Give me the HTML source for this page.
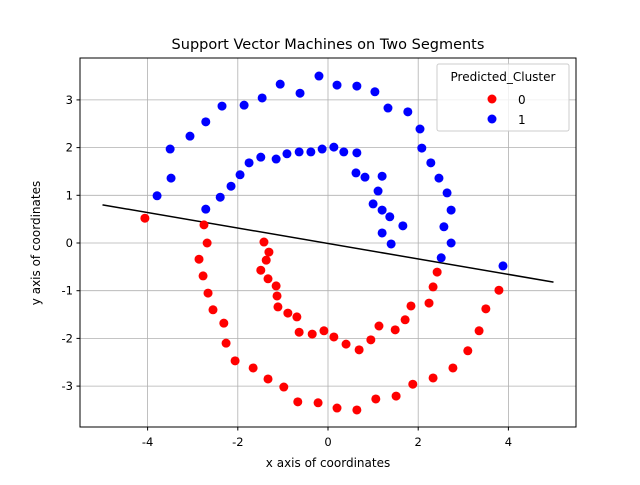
<!DOCTYPE html>
<html><head><meta charset="utf-8"><style>
body{margin:0;background:#fff}
svg{font-family:"DejaVu Sans","Liberation Sans",sans-serif}
</style></head><body>
<svg id="chart" width="640" height="480" xmlns="http://www.w3.org/2000/svg">
<rect width="640" height="480" fill="#fff"/>
<g id="grid"></g>
<g id="line"></g>
<g id="pts"></g>
<rect x="80" y="58" width="496" height="369" fill="none" stroke="#000" stroke-width="1"/>
<g id="ticks"></g>
<text x="328" y="49" font-size="14.5" text-anchor="middle">Support Vector Machines on Two Segments</text>
<text x="328" y="467" font-size="12" text-anchor="middle">x axis of coordinates</text>
<text x="0" y="0" font-size="12" text-anchor="middle" transform="translate(40,243) rotate(-90)">y axis of coordinates</text>
<g>
<rect x="437" y="64" width="132" height="67" rx="2" fill="#fff" fill-opacity="0.8" stroke="#ccc"/>
<text x="503" y="81" font-size="12" text-anchor="middle">Predicted_Cluster</text>
<circle cx="492" cy="99" r="4.5" fill="#f00"/>
<text x="518" y="104" font-size="12">0</text>
<circle cx="492" cy="119" r="4.5" fill="#00f"/>
<text x="518" y="124" font-size="12">1</text>
</g>
</svg>
<script>
const xTicks=[-4,-2,0,2,4];
const yTicks=[-3,-2,-1,0,1,2,3];
const blueX=[-3.79,-3.50,-3.48,-3.06,-2.71,-2.35,-1.86,-1.46,-1.06,-0.62,-0.20,0.20,0.64,1.04,1.33,1.77,2.04,2.08,2.28,2.46,2.64,2.73,2.57,2.73,2.51,3.88,-2.71,-2.39,-2.15,-1.95,-1.75,-1.49,-1.15,-0.91,-0.64,-0.38,-0.13,0.13,0.35,0.64,0.62,0.82,1.20,1.11,1.00,1.20,1.37,1.20,1.40,1.66];
const blueY=[0.99,1.97,1.36,2.24,2.54,2.87,2.89,3.04,3.33,3.14,3.50,3.31,3.29,3.17,2.83,2.75,2.39,1.99,1.68,1.36,1.05,0.69,0.34,0.0,-0.31,-0.48,0.71,0.96,1.19,1.43,1.68,1.80,1.76,1.87,1.91,1.91,1.97,2.01,1.91,1.89,1.47,1.38,1.40,1.09,0.82,0.69,0.55,0.21,-0.02,0.36];
const redX=[-4.06,-2.75,-2.68,-2.86,-2.77,-2.66,-2.55,-2.31,-2.26,-2.06,-1.66,-1.33,-0.98,-0.67,-0.22,0.20,0.64,1.06,1.51,1.88,2.33,2.77,3.10,3.35,3.50,3.79,2.33,2.42,2.24,1.84,1.71,1.49,1.13,0.95,0.69,0.40,0.13,-0.09,-0.35,-0.64,-0.69,-0.89,-1.11,-1.13,-1.15,-1.49,-1.37,-1.31,-1.42,-1.33];
const redY=[0.52,0.38,0.0,-0.34,-0.69,-1.05,-1.40,-1.68,-2.10,-2.47,-2.62,-2.85,-3.02,-3.33,-3.35,-3.46,-3.50,-3.27,-3.21,-2.96,-2.83,-2.62,-2.26,-1.84,-1.38,-0.99,-0.92,-0.61,-1.26,-1.32,-1.61,-1.82,-1.74,-2.03,-2.24,-2.12,-1.97,-1.84,-1.91,-1.87,-1.55,-1.47,-1.34,-1.11,-0.90,-0.57,-0.36,-0.19,0.02,-0.75];
const lineX=[-5,5];
const lineY=[0.8,-0.82];
const NS="http://www.w3.org/2000/svg";
const sx=v=>328+v*45.1, sy=v=>243-v*47.7;
function mk(t,a,p){const e=document.createElementNS(NS,t);for(const k in a)e.setAttribute(k,a[k]);p.appendChild(e);return e;}
const grid=document.getElementById('grid'),ticks=document.getElementById('ticks'),pts=document.getElementById('pts');
xTicks.forEach(v=>{const X=sx(v);
 let g=mk('line',{x1:X,x2:X,y1:58,y2:427,stroke:'#b0b0b0','stroke-width':0.8},grid);
 
 
 let t=mk('line',{x1:X,x2:X,y1:427,y2:430.5,stroke:'#000'},ticks);
 
 
 let l=mk('text',{x:X,y:446,'font-size':11.5,'text-anchor':'middle'},ticks);l.textContent=v;
 
 
});
yTicks.forEach(v=>{const Y=sy(v);
 let g=mk('line',{x1:80,x2:576,y1:Y,y2:Y,stroke:'#b0b0b0','stroke-width':0.8},grid);
 
 
 let t=mk('line',{x1:76.5,x2:80,y1:Y,y2:Y,stroke:'#000'},ticks);
 
 
 let l=mk('text',{x:73,y:Y+4,'font-size':11.5,'text-anchor':'end'},ticks);l.textContent=v;
 
 
});
const ln=mk('line',{x1:sx(lineX[0]),y1:sy(lineY[0]),x2:sx(lineX[1]),y2:sy(lineY[1]),stroke:'#000','stroke-width':1.5},document.getElementById('line'));


redX.forEach((v,i)=>{const c=mk('circle',{cx:sx(v),cy:sy(redY[i]),r:4.5,fill:'#f00'},pts);
 
 });
blueX.forEach((v,i)=>{const c=mk('circle',{cx:sx(v),cy:sy(blueY[i]),r:4.5,fill:'#00f'},pts);
 
 });
</script>
</body></html>
